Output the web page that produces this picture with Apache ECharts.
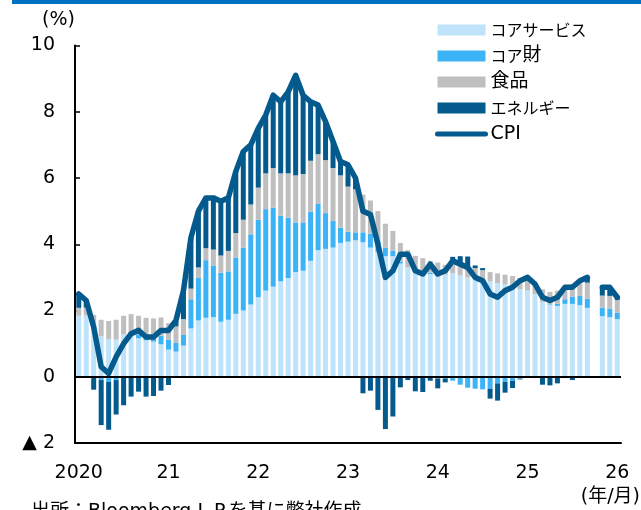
<!DOCTYPE html>
<html>
<head>
<meta charset="utf-8">
<script src="https://cdn.jsdelivr.net/npm/echarts@6/dist/echarts.min.js"></script>
<style>
html,body{margin:0;padding:0;background:#fff;}
#chart{width:641px;height:510px;}
</style>
</head>
<body>
<div id="chart"></div>
<script>
// Monthly categories, Jan 2020 – Jan 2026 (Oct 2025 not published)
const months = [
  '2020/01','2020/02','2020/03','2020/04','2020/05','2020/06','2020/07','2020/08','2020/09','2020/10','2020/11','2020/12',
  '2021/01','2021/02','2021/03','2021/04','2021/05','2021/06','2021/07','2021/08','2021/09','2021/10','2021/11','2021/12',
  '2022/01','2022/02','2022/03','2022/04','2022/05','2022/06','2022/07','2022/08','2022/09','2022/10','2022/11','2022/12',
  '2023/01','2023/02','2023/03','2023/04','2023/05','2023/06','2023/07','2023/08','2023/09','2023/10','2023/11','2023/12',
  '2024/01','2024/02','2024/03','2024/04','2024/05','2024/06','2024/07','2024/08','2024/09','2024/10','2024/11','2024/12',
  '2025/01','2025/02','2025/03','2025/04','2025/05','2025/06','2025/07','2025/08','2025/09','2025/10','2025/11','2025/12',
  '2026/01'
];

// Year labels shown at each January
const yearLabels = ['2020', '21', '22', '23', '24', '25', '26'];

// Contributions to CPI year-on-year change (percentage points)
const coreServices = [
  1.84,1.85,1.60,1.22,1.14,1.12,1.28,1.30,1.16,1.10,1.06,0.98,
  0.82,0.76,0.94,1.46,1.70,1.78,1.80,1.66,1.72,1.90,2.00,2.18,
  2.40,2.60,2.72,2.88,2.98,3.16,3.20,3.50,3.82,3.86,3.90,4.04,
  4.08,4.12,4.06,3.90,3.76,3.64,3.64,3.42,3.30,3.20,3.18,3.10,
  3.10,3.08,3.12,3.06,3.00,2.98,2.92,2.88,2.82,2.80,2.72,2.64,
  2.60,2.50,2.26,2.18,2.14,2.20,2.20,2.16,2.08,null,1.83,1.80,
  1.74
];
const coreGoods = [
  -0.02,-0.02,-0.03,-0.10,-0.15,-0.10,-0.02,0.04,0.12,0.14,0.18,0.26,
  0.30,0.26,0.32,0.88,1.28,1.74,1.56,1.48,1.46,1.70,1.90,2.12,
  2.34,2.46,2.38,1.98,1.82,1.50,1.46,1.48,1.40,1.08,0.80,0.46,
  0.30,0.24,0.30,0.42,0.36,0.26,0.16,0.06,0.00,-0.02,0.00,0.04,
  -0.05,-0.05,-0.12,-0.24,-0.33,-0.36,-0.38,-0.36,-0.20,-0.15,-0.12,-0.06,
  -0.02,0.00,-0.02,0.02,0.06,0.14,0.22,0.28,0.28,null,0.26,0.26,
  0.20
];
const food = [
  0.24,0.24,0.27,0.50,0.54,0.60,0.56,0.55,0.56,0.54,0.52,0.55,
  0.50,0.50,0.48,0.32,0.32,0.36,0.48,0.52,0.62,0.74,0.84,0.90,
  0.97,1.08,1.20,1.28,1.34,1.42,1.46,1.54,1.50,1.60,1.60,1.58,
  1.36,1.30,1.14,1.00,0.88,0.72,0.60,0.56,0.52,0.45,0.40,0.36,
  0.35,0.30,0.30,0.30,0.28,0.30,0.30,0.28,0.30,0.28,0.32,0.34,
  0.34,0.34,0.38,0.36,0.40,0.40,0.38,0.44,0.48,null,0.36,0.38,
  0.38
];
const energy = [
  0.44,0.23,-0.36,-1.36,-1.45,-1.04,-0.84,-0.60,-0.45,-0.60,-0.58,-0.42,
  -0.25,0.16,0.86,1.54,1.70,1.52,1.56,1.64,1.60,1.86,2.06,1.80,
  1.79,1.76,2.20,2.16,2.46,3.02,2.38,1.78,1.48,1.16,0.80,0.42,
  0.66,0.34,-0.50,-0.42,-1.00,-1.58,-1.20,-0.32,-0.10,-0.42,-0.46,-0.12,
  -0.30,-0.12,0.20,0.28,0.35,0.08,0.06,-0.30,-0.52,-0.33,-0.22,-0.02,
  0.08,-0.04,-0.22,-0.26,-0.20,-0.04,-0.10,0.02,0.16,null,0.25,0.26,
  0.08
];
// Headline CPI, year-on-year (%)
const cpi = [
  2.5,2.3,1.5,0.3,0.1,0.6,1.0,1.3,1.4,1.2,1.2,1.4,
  1.4,1.7,2.6,4.2,5.0,5.4,5.4,5.3,5.4,6.2,6.8,7.0,
  7.5,7.9,8.5,8.3,8.6,9.1,8.5,8.3,8.2,7.7,7.1,6.5,
  6.4,6.0,5.0,4.9,4.0,3.0,3.2,3.7,3.7,3.2,3.1,3.4,
  3.1,3.2,3.5,3.4,3.3,3.0,2.9,2.5,2.4,2.6,2.7,2.9,
  3.0,2.8,2.4,2.3,2.4,2.7,2.7,2.9,3.0,null,2.7,2.7,
  2.4
];

const LATIN = 'DejaVu Sans';
const MIXED = 'DejaVu Sans, "Noto Sans CJK JP"';
const DARK = '#045A8D';

function barSeries(name, data, color, extra) {
  return Object.assign({
    name: name,
    type: 'bar',
    stack: 'contrib',
    data: data,
    barWidth: 5,
    itemStyle: { color: color },
    emphasis: { disabled: true }
  }, extra || {});
}

const chart = echarts.init(document.getElementById('chart'), null, { renderer: 'canvas' });

chart.setOption({
  animation: false,
  backgroundColor: '#fff',
  grid: { left: 75, right: 20, top: 45.5, bottom: 67, containLabel: false },
  legend: {
    orient: 'vertical',
    left: 435,
    top: 19,
    padding: 0,
    itemWidth: 48,
    itemHeight: 11,
    itemGap: 4,
    selectedMode: false,
    data: [
      { name: 'コアサービス', icon: 'rect' },
      { name: 'コア財', icon: 'rect' },
      { name: '食品', icon: 'rect' },
      { name: 'エネルギー', icon: 'rect' },
      { name: 'CPI', itemStyle: { opacity: 0 }, lineStyle: { width: 5, cap: 'round', color: DARK } }
    ],
    formatter: function (name) {
      if (name === 'コアサービス' || name === 'エネルギー') return '{k|' + name + '}';
      if (name === 'コア財') return '{k|コア}財';
      return name;
    },
    textStyle: {
      fontFamily: MIXED,
      fontSize: 19,
      color: '#000',
      lineHeight: 22,
      rich: { k: { fontFamily: 'Noto Sans CJK JP', fontSize: 16, lineHeight: 22, color: '#000' } }
    }
  },
  xAxis: {
    type: 'category',
    data: months,
    boundaryGap: true,
    axisLine: { onZero: false, lineStyle: { color: '#000', width: 2 } },
    axisTick: { interval: 11, length: 6, lineStyle: { color: '#000', width: 1.5 } },
    axisLabel: {
      interval: 11,
      margin: 21,
      fontFamily: LATIN,
      fontSize: 19,
      color: '#000',
      formatter: function (v, i) { return yearLabels[Math.round(i / 12)]; }
    },
    splitLine: { show: false }
  },
  yAxis: {
    type: 'value',
    min: -2,
    max: 10,
    interval: 2,
    axisLine: { show: true, lineStyle: { color: '#000', width: 2 } },
    axisTick: { show: true, inside: true, length: 5, lineStyle: { color: '#000', width: 1.5 } },
    axisLabel: {
      margin: 20,
      fontFamily: LATIN,
      fontSize: 19,
      color: '#000',
      formatter: function (v) { return v < 0 ? '▲ ' + (-v) : String(v); }
    },
    splitLine: { show: false }
  },
  series: [
    barSeries('コアサービス', coreServices, '#BFE3FB'),
    barSeries('コア財', coreGoods, '#3DB3F7'),
    barSeries('食品', food, '#BFBFBF'),
    barSeries('エネルギー', energy, DARK, {
      markLine: {
        silent: true,
        symbol: 'none',
        label: { show: false },
        lineStyle: { color: '#000', width: 2, type: 'solid' },
        data: [{ yAxis: 0 }]
      }
    }),
    {
      name: 'CPI',
      type: 'line',
      data: cpi,
      symbol: 'none',
      connectNulls: false,
      z: 5,
      itemStyle: { color: DARK },
      lineStyle: { color: DARK, width: 5.5, join: 'round', cap: 'round' },
      emphasis: { disabled: true }
    }
  ],
  graphic: [
    { type: 'rect', shape: { x: 12, y: 0, width: 629, height: 4 }, style: { fill: '#0070C0' }, silent: true },
    { type: 'text', style: { text: '(%)', x: 42, y: 20, font: '19px ' + LATIN, fill: '#000', verticalAlign: 'middle' } },
    { type: 'text', style: { text: '(年/月)', x: 640, y: 497, font: '19px ' + MIXED, fill: '#000', align: 'right', verticalAlign: 'middle' } },
    { type: 'text', style: { text: '出所：Bloomberg L.P.を基に弊社作成', x: 31, y: 512, font: '19px ' + MIXED, fill: '#000', verticalAlign: 'middle' } }
  ]
});
</script>
</body>
</html>
